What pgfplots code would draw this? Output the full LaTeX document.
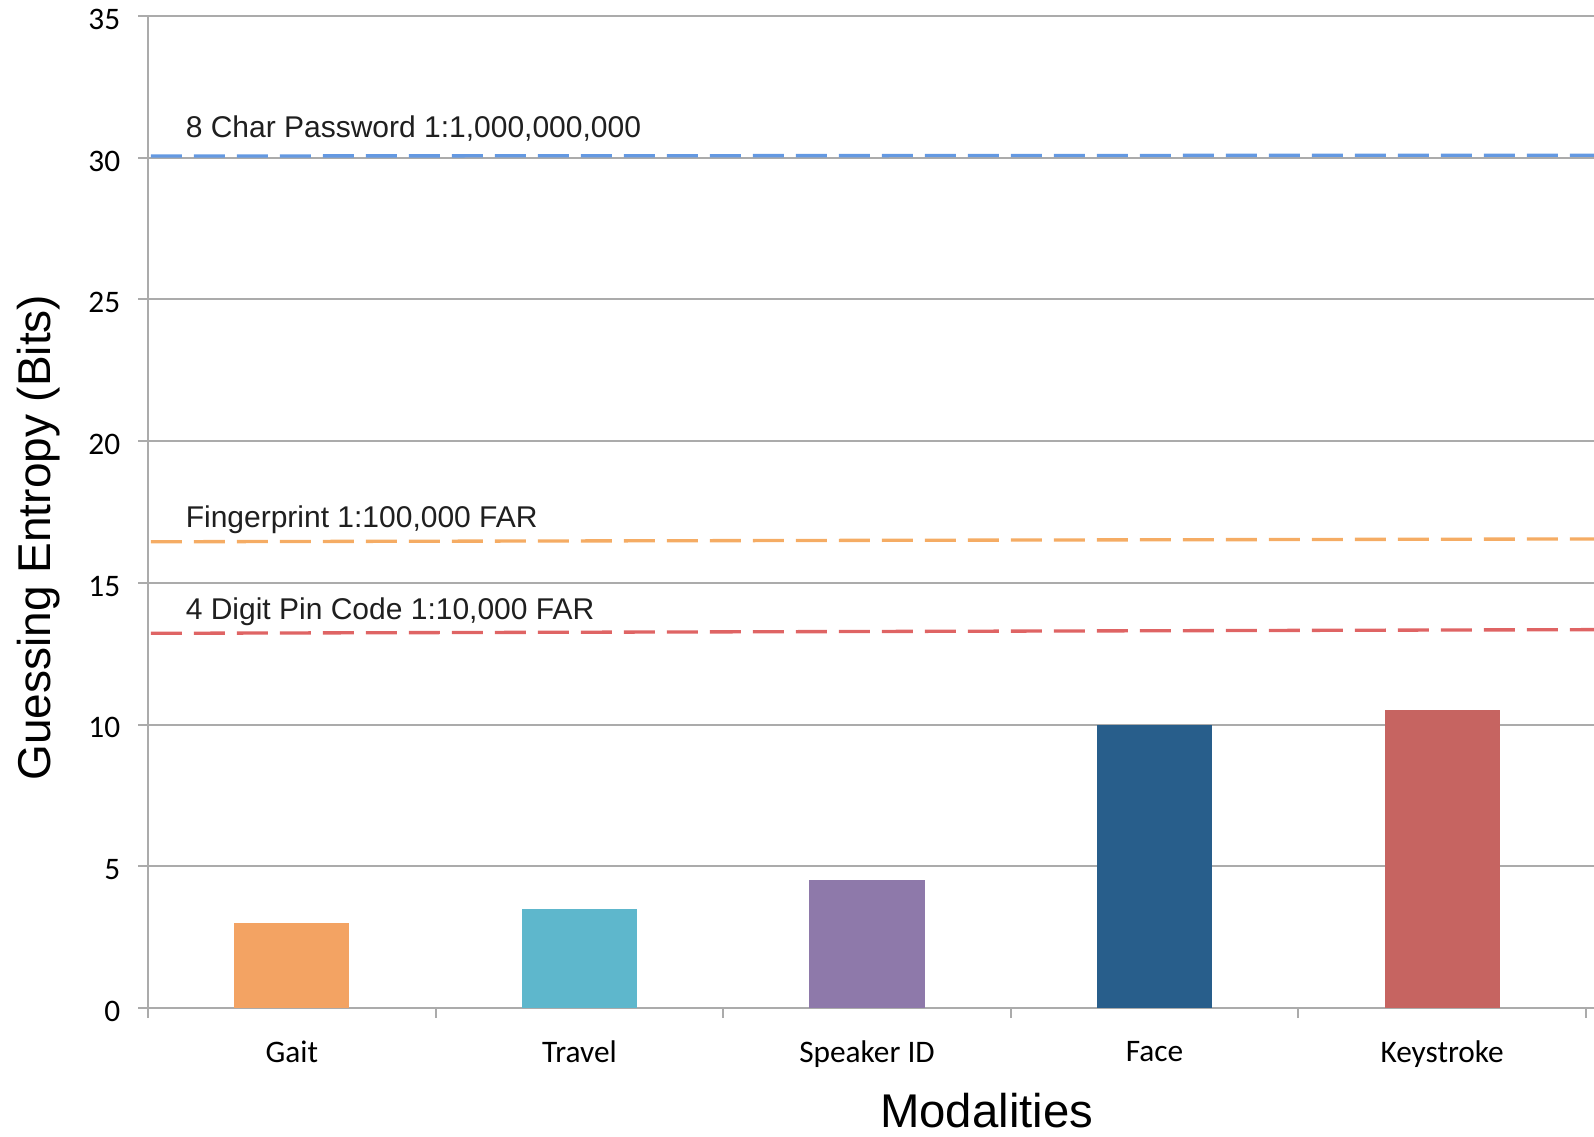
\documentclass[border=0pt]{standalone}
\usepackage{pgfplots}
\pgfplotsset{compat=1.18}
\usepackage{fontspec}
\setmainfont{Liberation Sans}
\newfontfamily\calibri{Carlito}
\definecolor{cGait}{HTML}{F3A363}
\definecolor{cTravel}{HTML}{5EB7CC}
\definecolor{cSpeaker}{HTML}{8E79AA}
\definecolor{cFace}{HTML}{285E8B}
\definecolor{cKey}{HTML}{C66461}
\definecolor{lBlue}{HTML}{6499E2}
\definecolor{lOrange}{HTML}{F5AC64}
\definecolor{lRed}{HTML}{DF6464}
\definecolor{gridc}{HTML}{ABABAB}
\begin{document}
\begin{tikzpicture}
\useasboundingbox (0,0) rectangle (478.2pt,340.8pt);
\begin{axis}[
  at={(44.4pt,38.4pt)}, anchor=south west,
  scale only axis, width=433.8pt, height=297.6pt,
  xmin=-0.5, xmax=4.528, ymin=0, ymax=35,
  axis lines*=left,
  axis line style={draw=gridc, line width=0.6pt},
  ytick={0,5,...,35},
  ymajorgrids, grid style={draw=gridc, line width=0.6pt},
  tick align=outside, major tick length=3pt,
  tick style={draw=gridc, line width=0.6pt},
  xtick={-0.5,0.5,1.5,2.5,3.5,4.5}, xticklabels={},
  extra x ticks={0,1,2,3,4},
  extra x tick labels={Gait,Travel,Speaker ID,Face,Keystroke},
  extra x tick style={major tick length=0pt, grid=none,
     xticklabel style={yshift=-6.4pt}},
  ticklabel style={font=\calibri\fontsize{9.4}{10}\selectfont, text=black},
  yticklabel style={xshift=-1.8pt, yshift=-1pt},
  /pgf/number format/assume math mode=true,
  clip=false,
]
\addplot[ybar, bar width=0.4, bar shift=0pt, fill=cGait, draw=none] coordinates {(0,3)};
\addplot[ybar, bar width=0.4, bar shift=0pt, fill=cTravel, draw=none] coordinates {(1,3.5)};
\addplot[ybar, bar width=0.4, bar shift=0pt, fill=cSpeaker, draw=none] coordinates {(2,4.5)};
\addplot[ybar, bar width=0.4, bar shift=0pt, fill=cFace, draw=none] coordinates {(3,10)};
\addplot[ybar, bar width=0.4, bar shift=0pt, fill=cKey, draw=none] coordinates {(4,10.5)};
\addplot[lBlue, line width=1pt, dash pattern=on 9.3pt off 3.6pt, no marks] coordinates {(-0.49,30.06) (4.528,30.09)};
\addplot[lOrange, line width=1pt, dash pattern=on 9.3pt off 3.6pt, no marks] coordinates {(-0.49,16.45) (4.528,16.55)};
\addplot[lRed, line width=1pt, dash pattern=on 9.3pt off 3.6pt, no marks] coordinates {(-0.49,13.22) (4.528,13.35)};
\node[anchor=base west, inner sep=0pt, font=\fontsize{9}{10}\selectfont, text=black!88] at (axis cs:-0.371,30.70) {8 Char Password 1:1,000,000,000};
\node[anchor=base west, inner sep=0pt, font=\fontsize{9}{10}\selectfont, text=black!88] at (axis cs:-0.371,16.94) {Fingerprint 1:100,000 FAR};
\node[anchor=base west, inner sep=0pt, font=\fontsize{9}{10}\selectfont, text=black!88] at (axis cs:-0.371,13.69) {4 Digit Pin Code 1:10,000 FAR};
\node[anchor=base, inner sep=0pt, font=\fontsize{14.2}{15}\selectfont] at ([yshift=-35.7pt]axis description cs:0.580,0) {Modalities};
\node[anchor=base, rotate=90, inner sep=0pt, font=\fontsize{13.8}{15}\selectfont] at ([xshift=-29.4pt]axis description cs:0,0.4743) {Guessing Entropy (Bits)};
\end{axis}
\end{tikzpicture}
\end{document}
